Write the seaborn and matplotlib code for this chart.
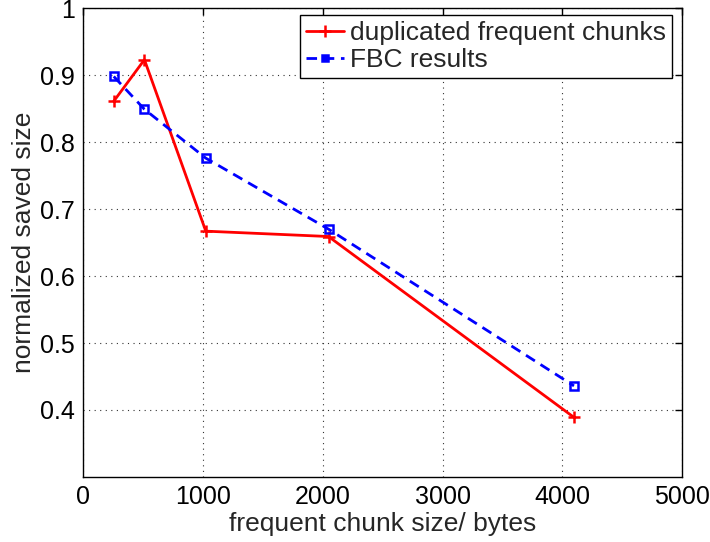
import matplotlib
matplotlib.use("Agg")
import matplotlib.pyplot as plt
import seaborn as sns
import pandas as pd

chunk_sizes = [256, 512, 1024, 2048, 4096]
dup_frequent = [0.861, 0.923, 0.667, 0.659, 0.389]
fbc_results = [0.898, 0.849, 0.776, 0.670, 0.436]
series_names = ["duplicated frequent chunks", "FBC results"]
x_ticks = [0, 1000, 2000, 3000, 4000, 5000]
y_ticks = [0.4, 0.5, 0.6, 0.7, 0.8, 0.9, 1.0]
y_tick_labels = ["0.4", "0.5", "0.6", "0.7", "0.8", "0.9", "1"]

df_dup = pd.DataFrame({"x": chunk_sizes, "y": dup_frequent})
df_fbc = pd.DataFrame({"x": chunk_sizes, "y": fbc_results})

sns.set_style("white")
plt.rcParams["font.family"] = ["Liberation Sans", "DejaVu Sans"]

fig = plt.figure(figsize=(7.1, 5.42), dpi=100)
ax = fig.add_axes([0.117, 0.120, 0.844, 0.865])

sns.lineplot(data=df_dup, x="x", y="y", color="#ff0000", marker="+",
             linewidth=2.0, markersize=8, markeredgewidth=1.8,
             markeredgecolor="#ff0000",
             label=series_names[0], ax=ax, sort=False)
sns.lineplot(data=df_fbc, x="x", y="y", color="#0000ff", marker="s",
             linestyle=(0, (3.8, 2.4)), linewidth=2.0, markersize=6,
             markeredgewidth=1.8, markerfacecolor="none", markeredgecolor="#0000ff",
             label=series_names[1], ax=ax, sort=False)

ax.set_xlim(0, 5000)
ax.set_ylim(0.3, 1.0)
ax.set_xticks(x_ticks)
ax.set_yticks(y_ticks)
ax.set_yticklabels(y_tick_labels)
ax.tick_params(direction="in", top=True, right=True, length=5, width=1,
               labelsize=18, colors="black", pad=6)
ax.grid(True, linestyle=(0, (1, 4)), color="#333333", linewidth=0.8)
for s in ax.spines.values():
    s.set_color("black")
    s.set_linewidth(1.0)
ax.set_xlabel("frequent chunk size/ bytes", fontsize=19, labelpad=2)
ax.set_ylabel("normalized saved size", fontsize=19, labelpad=3)

h, l = ax.get_legend_handles_labels()
leg = ax.legend(h, l, loc="upper right", fontsize=19, frameon=True, fancybox=False,
                edgecolor="black", framealpha=1, borderpad=0.25, handlelength=1.45,
                handletextpad=0.2, labelspacing=0.1,
                bbox_to_anchor=(1 - 10 / 599, 1 - 6.4 / 469), borderaxespad=0)
leg.get_frame().set_linewidth(1.0)
for lh in leg.get_lines():
    if lh.get_marker() == "s":
        lh.set_markersize(4)
        lh.set_markerfacecolor("#0000ff")

fig.savefig("out.png", dpi=100)
